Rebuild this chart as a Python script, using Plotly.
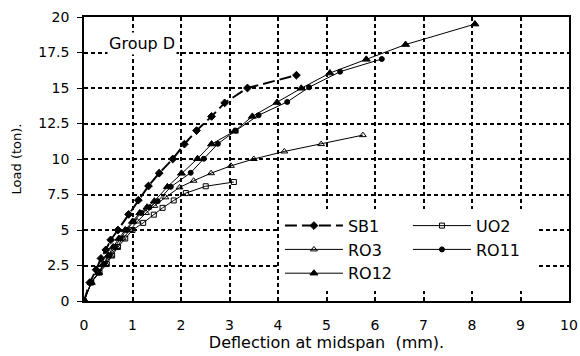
import plotly.graph_objects as go

# Load–deflection curves at midspan, Group D beams
sb1_x = [0, 0.12, 0.25, 0.35, 0.45, 0.55, 0.70, 0.92, 1.12, 1.33, 1.55, 1.83, 2.07, 2.32, 2.63, 2.90, 3.37, 4.38]
sb1_y = [0, 1.3, 2.2, 3.0, 3.6, 4.3, 5.0, 6.1, 7.1, 8.1, 9.0, 10.0, 11.05, 12.0, 13.0, 13.95, 15.0, 15.9]

uo2_x = [0, 0.15, 0.32, 0.47, 0.58, 0.70, 0.85, 1.00, 1.22, 1.44, 1.62, 1.85, 2.10, 2.51, 3.09]
uo2_y = [0, 1.3, 2.0, 2.6, 3.2, 3.8, 4.4, 5.0, 5.5, 6.08, 6.56, 7.08, 7.6, 8.08, 8.38]

ro3_x = [0, 0.15, 0.30, 0.45, 0.55, 0.67, 0.80, 0.95, 1.10, 1.28, 1.45, 1.68, 1.97, 2.26, 2.62, 3.03, 3.50, 4.13, 4.89, 5.75]
ro3_y = [0, 1.3, 2.0, 2.6, 3.2, 3.8, 4.4, 5.0, 5.6, 6.2, 6.7, 7.3, 8.0, 8.47, 9.0, 9.52, 10.0, 10.53, 11.05, 11.68]

ro11_x = [0, 0.15, 0.30, 0.42, 0.52, 0.63, 0.75, 0.88, 1.02, 1.18, 1.35, 1.52, 1.79, 2.20, 2.47, 2.76, 3.13, 3.60, 4.19, 4.64, 5.28, 6.14]
ro11_y = [0, 1.3, 2.0, 2.6, 3.2, 3.8, 4.4, 5.0, 5.6, 6.2, 6.6, 7.03, 8.04, 9.03, 10.02, 11.07, 12.0, 13.08, 14.02, 15.05, 16.15, 17.04]

ro12_x = [0, 0.15, 0.30, 0.40, 0.50, 0.60, 0.72, 0.85, 1.00, 1.15, 1.30, 1.45, 1.72, 2.01, 2.34, 2.63, 3.10, 3.47, 3.98, 4.48, 5.07, 5.82, 6.63, 8.06]
ro12_y = [0, 1.3, 2.0, 2.6, 3.2, 3.8, 4.4, 5.0, 5.6, 6.2, 6.6, 7.03, 8.04, 8.99, 10.02, 11.05, 11.95, 13.0, 13.98, 14.98, 16.05, 17.02, 18.06, 19.5]

x_ticks = list(range(0, 11))
y_ticks = [0, 2.5, 5, 7.5, 10, 12.5, 15, 17.5, 20]
y_tick_text = ["0", "2.5", "5", "7.5", "10", "12.5", "15", "17.5", "20"]

FONT = "DejaVu Sans"
BLACK = "#000000"

series = [
    ("SB1", sb1_x, sb1_y, "diamond", 6, "12px,5px", 2.0, "a"),
    ("UO2", uo2_x, uo2_y, "square-open", 5, "solid", 1.0, "b"),
    ("RO3", ro3_x, ro3_y, "triangle-up-open", 6, "solid", 1.0, "a"),
    ("RO11", ro11_x, ro11_y, "circle", 5, "solid", 1.0, "b"),
    ("RO12", ro12_x, ro12_y, "triangle-up", 7, "solid", 1.0, "a"),
]

fig = go.Figure()
for name, xs, ys, sym, size, dash, lw, grp in series:
    fig.add_trace(go.Scatter(
        x=xs, y=ys, name=name, mode="lines+markers",
        legendgroup=grp,
        line=dict(color=BLACK, width=lw, dash=dash),
        marker=dict(symbol=sym, size=size, color=BLACK,
                    line=dict(color=BLACK, width=1)),
    ))

grid = dict(showgrid=True, gridcolor=BLACK, gridwidth=2, griddash="4px,3px")

fig.update_layout(
    width=580, height=356,
    margin=dict(l=84, r=11, t=17, b=55, autoexpand=False),
    paper_bgcolor="white", plot_bgcolor="white",
    font=dict(family=FONT, size=14, color=BLACK),
    showlegend=True,
    legend=dict(
        orientation="h", traceorder="grouped",
        x=0.404, y=0.325, xanchor="left", yanchor="top",
        bgcolor="white", borderwidth=0,
        itemwidth=58, entrywidth=55,
        font=dict(family=FONT, size=16, color=BLACK),
    ),
    xaxis=dict(
        range=[0, 10], tickvals=x_ticks, ticks="", ticklabelstandoff=10,
        showline=True, linecolor=BLACK, linewidth=1.5, mirror=True,
        zeroline=False, tickfont=dict(family=FONT, size=14),
        title=dict(text="Deflection at midspan\u00a0 (mm).",
                   font=dict(family=FONT, size=16), standoff=2),
        **grid,
    ),
    yaxis=dict(
        range=[0, 20], tickvals=y_ticks, ticktext=y_tick_text,
        ticks="outside", ticklen=5, tickwidth=1, tickcolor=BLACK,
        ticklabelstandoff=5,
        showline=True, linecolor=BLACK, linewidth=1.5, mirror=True,
        zeroline=False, tickfont=dict(family=FONT, size=14),
        title=dict(text="Load (ton).", font=dict(family=FONT, size=13), standoff=14),
        **grid,
    ),
    annotations=[dict(
        text="Group D", x=1.2, y=18.1, xref="x", yref="y",
        showarrow=False, bgcolor="white",
        font=dict(family=FONT, size=16, color=BLACK),
    )],
)

fig.write_html("out.html")
